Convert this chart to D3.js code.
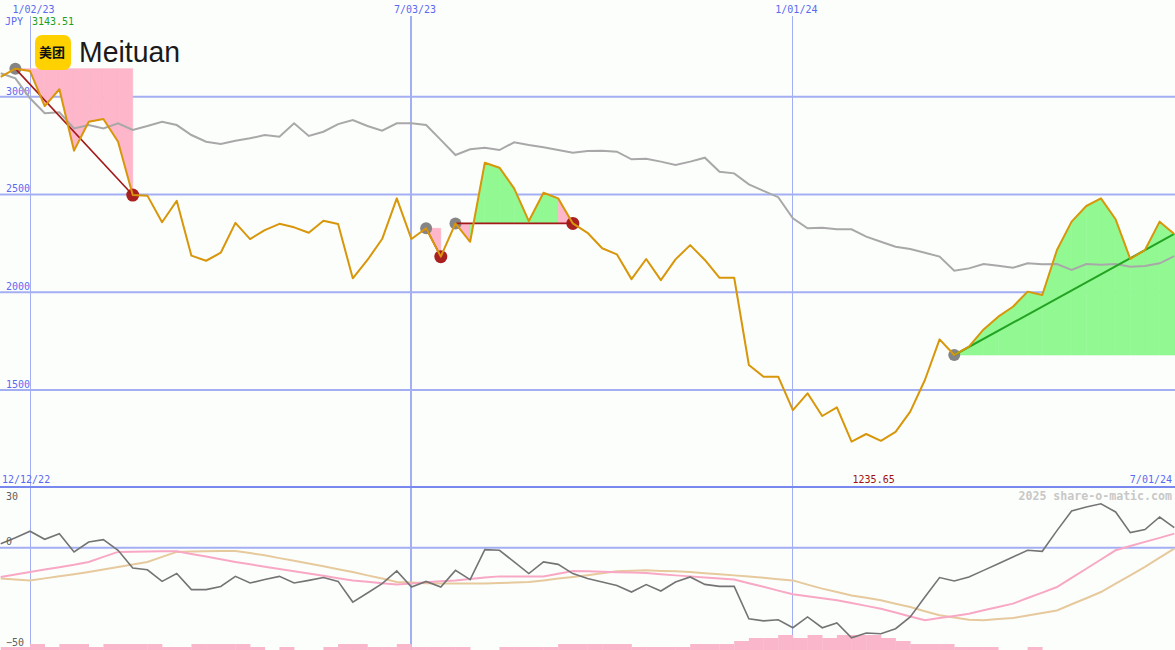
<!DOCTYPE html>
<html><head><meta charset="utf-8">
<script src="https://cdn.jsdelivr.net/npm/d3@7"></script>
<style>html,body{margin:0;padding:0;background:#fcfefc;overflow:hidden}</style>
</head><body>
<svg id="c" width="1175" height="650"></svg>
<script>
// ---- data (weekly, first week 12/19/22) ----
const price = [3102, 3143.51, 3131, 2952, 3038, 2724, 2872, 2886, 2770, 2497,
  2494, 2358, 2468, 2187, 2161, 2202, 2355, 2272, 2318, 2350,
  2332, 2304, 2366, 2349, 2071, 2165, 2272, 2480, 2272, 2327,
  2182, 2352, 2258, 2662, 2637, 2531, 2364, 2509, 2480, 2352,
  2304, 2225, 2194, 2067, 2170, 2062, 2168, 2241, 2165, 2074,
  2074, 1628, 1568, 1568, 1397, 1483, 1367, 1411, 1235.65, 1275,
  1240, 1286, 1389, 1551, 1759, 1679, 1722, 1810, 1875, 1926,
  2003, 1986, 2216, 2361, 2441, 2480, 2373, 2170, 2216, 2361, 2298];
const indexLine = [3120, 3094, 2992, 2915, 2920, 2838, 2855, 2838, 2864, 2830,
  2850, 2872, 2855, 2804, 2770, 2758, 2775, 2787, 2804, 2795,
  2864, 2799, 2821, 2860, 2881, 2850, 2826, 2864, 2864, 2855,
  2779, 2702, 2731, 2739, 2727, 2767, 2753, 2741, 2727, 2714,
  2722, 2724, 2719, 2680, 2683, 2668, 2651, 2668, 2688, 2616,
  2608, 2552, 2518, 2486, 2378, 2327, 2330, 2322, 2322, 2284,
  2258, 2233, 2221, 2202, 2182, 2110, 2122, 2144, 2136, 2125,
  2148, 2143, 2144, 2114, 2144, 2141, 2144, 2130, 2134, 2148, 2185];
const momentum = [2.0, 5.0, 8.2, 4.2, 7.0, -2.1, 2.8, 4.0, -1.3, -10.1,
  -11.0, -16.8, -12.9, -20.9, -20.9, -19.3, -14.3, -17.6, -15.9, -14.3,
  -17.6, -16.3, -14.9, -16.8, -27.1, -22.6, -17.9, -11.6, -19.6, -16.8,
  -19.6, -11.3, -15.9, -1.0, -1.3, -7.1, -12.9, -7.1, -8.3, -12.9,
  -15.4, -17.1, -18.8, -22.1, -18.4, -21.6, -17.1, -14.6, -18.3, -19.3,
  -19.3, -35.4, -36.5, -35.9, -39.9, -34.5, -39.9, -37.5, -44.9, -42.5,
  -42.9, -40.4, -34.5, -24.6, -14.9, -16.6, -14.6, -11.3, -8.0, -4.6,
  -1.3, -1.8, 8.5, 18.3, 20.3, 21.9, 17.8, 7.5, 9.0, 15.3, 10.0];
const maFast = [-14.6, -13.4, -12.1, -10.9, -9.7, -8.5, -7.1, -4.6, -2.1, -2.0,
  -1.9, -1.8, -1.8, -3.1, -4.4, -5.8, -7.1, -8.3, -9.5, -10.6,
  -11.8, -12.9, -14.0, -15.2, -16.3, -17.0, -17.7, -18.3, -17.8, -17.2,
  -16.7, -16.3, -15.6, -14.9, -14.3, -14.3, -14.3, -14.3, -13.0, -11.6,
  -11.8, -12.0, -12.2, -12.4, -12.6, -13.2, -13.8, -14.3, -14.9, -15.4,
  -15.9, -17.7, -19.5, -21.4, -23.2, -24.2, -25.2, -26.2, -27.6, -29.0,
  -30.4, -32.3, -34.3, -36.2, -35.1, -34.0, -32.9, -31.2, -29.6, -27.9,
  -25.1, -22.4, -19.6, -15.0, -10.5, -5.9, -1.3, 0.8, 2.9, 4.9, 7.0];
const maSlow = [-15.4, -15.9, -16.3, -15.3, -14.2, -13.2, -12.1, -10.9, -9.6, -8.4,
  -7.1, -4.6, -2.1, -1.9, -1.8, -1.7, -1.6, -2.7, -3.8, -5.2,
  -6.5, -7.9, -9.3, -10.7, -12.1, -13.8, -15.4, -17.1, -17.4, -17.7,
  -17.9, -17.9, -17.9, -17.9, -17.6, -17.4, -17.1, -16.3, -15.4, -14.6,
  -13.7, -12.7, -11.8, -11.5, -11.3, -11.6, -11.8, -12.1, -12.7, -13.2,
  -13.8, -14.4, -15.0, -15.7, -16.3, -18.4, -20.4, -22.1, -23.8, -25.0,
  -26.2, -27.9, -29.6, -31.7, -33.7, -34.8, -35.9, -36.2, -35.6, -35.1,
  -33.8, -32.6, -31.3, -28.2, -25.2, -22.1, -17.9, -13.8, -9.6, -5.0, -0.5];
const volume = [1, 1, 2, 1, 2, 2, 1, 2, 2, 2,
  2, 1, 1, 2, 2, 2, 2, 1, 0, 1,
  0, 0, 1, 2, 2, 1, 1, 2, 1, 1,
  1, 1, 0, 0, 1, 1, 1, 1, 2, 2,
  2, 2, 2, 1, 1, 1, 1, 2, 2, 2,
  3, 4, 4, 5, 4, 5, 4, 5, 5, 5,
  4, 3, 2, 2, 2, 1, 1, 1, 0, 0,
  1, 0, 0, 0, 0, 0, 0, 0, 0, 0, 0];
const tradeEntry = [1, 29, 31, 65];
const tradeExit = [9, 30, 39, 80];
const tradeOpen = [false, false, false, true];
const priceTicks = [3000, 2500, 2000, 1500];
const lowerTicks = [30, 0, -50];
const dateTickLabels = ["1/02/23", "7/03/23", "1/01/24"];
const dateTicks = [Date.UTC(2023,0,2), Date.UTC(2023,6,3), Date.UTC(2024,0,1)];
const dateTickWidth = [1, 2, 1];

// ---- layout ----
const W = 1175, H = 650;
const svg = d3.select("#c");
svg.append("rect").attr("width", W).attr("height", H).attr("fill", "#fcfefc");
const start = Date.UTC(2022, 11, 19);
const dates = price.map((_, i) => new Date(start + i * 7 * 864e5));
const x = d3.scaleUtc().domain([dates[0], dates[dates.length - 1]]).range([0.7, 1174.3]);
const y = d3.scaleLinear().domain([1500, 3000]).range([390, 96.7]);
const y2 = d3.scaleLinear().domain([-50, 30]).range([648, 487.5]);
const vh = d3.scaleLinear().domain([0, 5]).range([0, 15]);
const mono = "'DejaVu Sans Mono', monospace";
const gridC = "#a3aff2";

// horizontal grid
svg.append("g").selectAll("line").data(priceTicks).join("line")
  .attr("x1", 0).attr("x2", W).attr("y1", d => y(d)).attr("y2", d => y(d))
  .attr("stroke", gridC).attr("stroke-width", 2);
svg.append("g").selectAll("text").data(priceTicks).join("text")
  .attr("x", 6).attr("y", d => y(d) - 2).text(d => d)
  .attr("font-family", mono).attr("font-size", 10).attr("fill", "#5a6af0");

// vertical grid
svg.append("g").selectAll("line").data(dateTicks).join("line")
  .attr("x1", d => x(d)).attr("x2", d => x(d)).attr("y1", 16).attr("y2", H)
  .attr("stroke", gridC).attr("stroke-width", (d, i) => dateTickWidth[i])
  .attr("shape-rendering", "crispEdges");
svg.append("g").selectAll("text").data(dateTicks).join("text")
  .attr("x", d => x(d) + 3.5).attr("y", 13).attr("text-anchor", "middle")
  .text((d, i) => dateTickLabels[i])
  .attr("font-family", mono).attr("font-size", 10).attr("fill", "#5a6af0");

// separator & lower zero line
svg.append("line").attr("x1", 0).attr("x2", W).attr("y1", 487).attr("y2", 487)
  .attr("stroke", "#7888ee").attr("stroke-width", 2);
svg.append("line").attr("x1", 0).attr("x2", W).attr("y1", y2(0)).attr("y2", y2(0))
  .attr("stroke", gridC).attr("stroke-width", 2);

// trade fills
const fills = svg.append("g");
tradeEntry.forEach((e, t) => {
  const end = tradeExit[t];
  const ev = price[e];
  for (let k = e; k < end; k++) {
    const pts = [[x(dates[k]), y(ev)], [x(dates[k]), y(price[k])],
                 [x(dates[k + 1]), y(price[k + 1])]];
    if (tradeOpen[t] && k + 1 === end) pts.push([W, y(price[k + 1])], [W, y(ev)]);
    else pts.push([x(dates[k + 1]), y(ev)]);
    const col = price[k + 1] > ev ? "#92f892" : "#fdb6ca";
    fills.append("polygon").attr("points", pts.map(p => p.join(",")).join(" "))
      .attr("fill", col).attr("stroke", col).attr("stroke-width", 0.6);
  }
});

// comparison line
const line = (yy, arr) => d3.line().x((d, i) => x(dates[i])).y(d => yy(d))(arr);
svg.append("path").attr("d", line(y, indexLine)).attr("fill", "none")
  .attr("stroke", "#a8a8a8").attr("stroke-width", 2);

// entry / exit circles
svg.append("g").selectAll("circle").data(tradeEntry).join("circle")
  .attr("cx", d => x(dates[d])).attr("cy", d => y(price[d])).attr("r", 6).attr("fill", "#858585");
svg.append("g").selectAll("circle").data(tradeExit.filter((d, i) => !tradeOpen[i])).join("circle")
  .attr("cx", d => x(dates[d])).attr("cy", d => y(price[d])).attr("r", 6.5).attr("fill", "#a82020");

// trade lines
tradeEntry.forEach((e, t) => {
  const end = tradeExit[t];
  svg.append("line").attr("x1", x(dates[e])).attr("y1", y(price[e]))
    .attr("x2", x(dates[end])).attr("y2", y(price[end]))
    .attr("stroke", tradeOpen[t] ? "#22a322" : "#a31818").attr("stroke-width", tradeOpen[t] ? 2 : 1.6);
});

// price line
svg.append("path").attr("d", line(y, price)).attr("fill", "none")
  .attr("stroke", "#d8960a").attr("stroke-width", 2).attr("stroke-linejoin", "round");

// labels top panel
svg.append("text").attr("x", 5).attr("y", 25).text("JPY")
  .attr("font-family", mono).attr("font-size", 10).attr("fill", "#5a6af0");
svg.append("text").attr("x", 32).attr("y", 25).text(d3.max(price).toFixed(2))
  .attr("font-family", mono).attr("font-size", 10).attr("fill", "#20a020");
svg.append("text").attr("x", 2).attr("y", 483).text("12/12/22")
  .attr("font-family", mono).attr("font-size", 10).attr("fill", "#5a6af0");
const minI = d3.minIndex(price);
svg.append("text").attr("x", x(dates[minI]) + 1).attr("y", 483).text(price[minI].toFixed(2))
  .attr("font-family", mono).attr("font-size", 10).attr("fill", "#a01010");
svg.append("text").attr("x", 1172).attr("y", 483).attr("text-anchor", "end").text("7/01/24")
  .attr("font-family", mono).attr("font-size", 10).attr("fill", "#5a6af0");

// logo
svg.append("rect").attr("x", 35).attr("y", 35).attr("width", 36).attr("height", 35)
  .attr("rx", 7).attr("fill", "#ffd100");
svg.append("text").attr("x", 52).attr("y", 57).attr("text-anchor", "middle").text("美团")
  .attr("font-family", "'Noto Sans CJK SC'").attr("font-weight", "bold").attr("font-size", 13).attr("fill", "#111");
svg.append("text").attr("x", 79).attr("y", 62).text("Meituan")
  .attr("font-family", "'Liberation Sans', Arial, sans-serif").attr("font-size", 29).attr("fill", "#1a1a1a")
  .attr("textLength", 101).attr("lengthAdjust", "spacingAndGlyphs");

// lower panel
const bw = x(dates[1]) - x(dates[0]);
svg.append("g").selectAll("rect").data(volume).join("rect")
  .attr("x", (d, i) => x(dates[i])).attr("width", bw + 0.3)
  .attr("y", d => H - vh(d)).attr("height", d => vh(d)).attr("fill", "#fab6ca");
svg.append("path").attr("d", line(y2, maSlow)).attr("fill", "none")
  .attr("stroke", "#e6c99c").attr("stroke-width", 2);
svg.append("path").attr("d", line(y2, maFast)).attr("fill", "none")
  .attr("stroke", "#f8a8c4").attr("stroke-width", 2);
svg.append("path").attr("d", line(y2, momentum)).attr("fill", "none")
  .attr("stroke", "#747474").attr("stroke-width", 1.6);
svg.append("g").selectAll("text").data(lowerTicks).join("text")
  .attr("x", 6).attr("y", (d, i) => [500, 545, 646][i]).text(d => d === -50 ? "\u221250" : d)
  .attr("font-family", mono).attr("font-size", 10).attr("fill", "#606060");
svg.append("text").attr("x", 1172).attr("y", 500).attr("text-anchor", "end")
  .text("2025 share-o-matic.com").attr("font-family", mono).attr("font-weight", "bold")
  .attr("font-size", 11.6).attr("fill", "#c8c8c8");
</script>
</body></html>
